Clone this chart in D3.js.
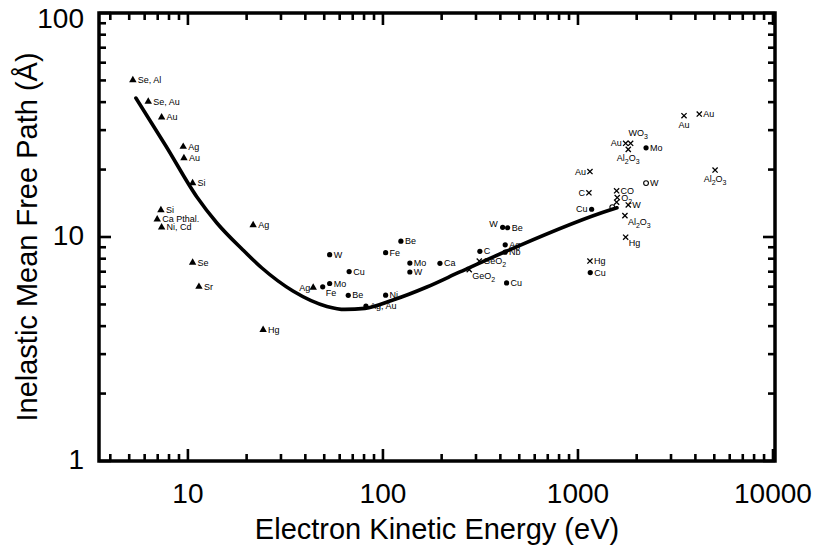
<!DOCTYPE html>
<html><head><meta charset="utf-8">
<script src="https://cdn.jsdelivr.net/npm/d3@7"></script>
<style>body{margin:0;background:#fff}</style>
</head><body><svg id="chart" width="816" height="555"></svg>
<script>
// ---------- data ----------
const xTickValues = [10, 100, 1000, 10000];
const xTickLabels = ["10", "100", "1000", "10000"];
const yTickValues = [1, 10, 100];
const yTickLabels = ["1", "10", "100"];
const xTitle = "Electron Kinetic Energy (eV)";
const yTitle = "Inelastic Mean Free Path (Å)";

// universal curve [energy eV, IMFP Å]
const universalCurve = [
  [5.41, 41.7], [7.71, 25.5], [11.12, 15.09], [14.08, 11.55], [19.15, 8.75],
  [23.96, 7.27], [34.56, 5.74], [51.6, 4.90], [63.86, 4.75], [80.8, 4.80],
  [112.5, 5.23], [168, 5.98], [248, 6.98], [432, 8.66], [1459, 13.2], [1585, 13.5]
];

// filled triangles [energy, IMFP, label]
const triangleData = [
  [5.22, 50.2, "Se, Al"], [6.26, 40.2, "Se, Au"], [7.33, 34.2, "Au"],
  [9.46, 25.3, "Ag"], [9.54, 22.5, "Au"], [10.57, 17.4, "Si"],
  [7.27, 13.2, "Si"], [6.96, 12.0, "Ca Pthal."], [7.33, 11.05, "Ni, Cd"],
  [21.6, 11.3, "Ag"], [10.57, 7.69, "Se"], [11.39, 6.0, "Sr"],
  [24.3, 3.85, "Hg"], [43.9, 5.95, "Ag"]
];
const triangleLabelPos = ["r","r","r","r","r","r","r","r","r","r","r","r","r","l"];

// filled circles
const circleData = [
  [49.1, 5.99, "Fe"], [53.3, 6.2, "Mo"], [53.3, 8.34, "W"], [67.1, 7.01, "Cu"],
  [66.4, 5.49, "Be"], [123.6, 9.58, "Be"], [103.2, 8.51, "Fe"], [137.4, 7.65, "Mo"],
  [137.4, 6.98, "W"], [196, 7.63, "Ca"], [103.2, 5.5, "Ni"], [81.8, 4.92, "Ag, Au"],
  [411, 11.05, "W"], [436, 11.0, "Be"], [423.6, 9.23, "Ag"], [314, 8.63, "C"],
  [423, 8.56, "Nb"], [430.5, 6.24, "Cu"], [1175, 13.3, "Cu"], [1156, 6.94, "Cu"],
  [2234, 25.0, "Mo"]
];
const circleLabelPos = ["br","r","r","r","r","r","r","r","r","r","r","r","tl","r","r","r","r","r","l","r","r"];

// open circles
const openCircleData = [[2234, 17.4, "W"], [1500, 13.6, ""]];
const openCircleLabelPos = ["r", "r"];

// x markers
const crossData = [
  [311.9, 7.81, "GeO2"], [277, 7.15, "GeO2"], [1152, 7.81, "Hg"],
  [4188, 35.4, "Au"], [3497, 34.8, "Au"], [1756, 26.2, "Au"],
  [1862, 26.2, "WO3"], [1811, 24.6, "Al2O3"], [1152, 19.6, "Au"],
  [5047, 19.9, "Al2O3"], [1138, 15.75, "C"], [1578, 16.08, "CO"],
  [1590, 15.0, "O2"], [1578, 14.3, ""], [1811, 13.9, "W"],
  [1741, 12.45, "Al2O3"], [1756, 9.98, "Hg"]
];
const crossLabelPos = ["r","br","r","r","b","l","t","b","l","b","l","r","r","r","r","br","br"];

// ---------- drawing ----------
const svg = d3.select("#chart");
const font = "'Liberation Sans', Arial, sans-serif";
const L = 99, R = 775, T = 13, B = 461;
const x = d3.scaleLog().domain([3.5, 10240]).range([L, R]);
const y = d3.scaleLog().domain([1, 100]).range([B, T]);

function logTicks(scale) {
  const [a, b] = scale.domain();
  const out = [];
  for (let e = Math.floor(Math.log10(a)); e <= Math.ceil(Math.log10(b)); e++) {
    for (let k = 1; k <= 9; k++) {
      const v = k * Math.pow(10, e);
      if (v >= a * 0.999 && v <= b * 1.001) out.push({v, major: k === 1});
    }
  }
  return out;
}
const tk = svg.append("g").attr("stroke", "#000").attr("stroke-width", 2.6);
const majLen = 12, minLen = 7;
logTicks(x).forEach(t => {
  const len = t.major ? majLen : minLen, px = x(t.v);
  tk.append("line").attr("x1", px).attr("x2", px).attr("y1", B).attr("y2", B - len);
  tk.append("line").attr("x1", px).attr("x2", px).attr("y1", T).attr("y2", T + len);
});
logTicks(y).forEach(t => {
  const len = t.major ? majLen : minLen, py = y(t.v);
  tk.append("line").attr("y1", py).attr("y2", py).attr("x1", L).attr("x2", L + len);
  tk.append("line").attr("y1", py).attr("y2", py).attr("x1", R).attr("x2", R - len);
});

svg.append("rect").attr("x", L).attr("y", T).attr("width", R - L).attr("height", B - T)
  .attr("fill", "none").attr("stroke", "#000").attr("stroke-width", 3.5);

svg.append("g").selectAll("text").data(xTickValues).join("text")
  .attr("x", d => x(d)).attr("y", 503).attr("text-anchor", "middle")
  .attr("font-family", font).attr("font-size", 28).attr("fill", "#000")
  .text((d, i) => xTickLabels[i]);
svg.append("g").selectAll("text").data(yTickValues).join("text")
  .attr("x", 84).attr("y", d => Math.max(y(d) + 8, 28)).attr("text-anchor", "end")
  .attr("font-family", font).attr("font-size", 28).attr("fill", "#000")
  .text((d, i) => yTickLabels[i]);

svg.append("text").attr("x", (L + R) / 2).attr("y", 539).attr("text-anchor", "middle")
  .attr("font-family", font).attr("font-size", 29).attr("fill", "#000").text(xTitle);
svg.append("text").attr("transform", `translate(37,${(T + B) / 2}) rotate(-90)`)
  .attr("text-anchor", "middle").attr("font-family", font).attr("font-size", 29)
  .attr("fill", "#000").text(yTitle);

const lblSize = 9;
function addLabel(g, px, py, label, pos) {
  if (!label) return;
  let dx = 4, dy = 3, anchor = "start";
  if (pos === "l") { dx = -4; anchor = "end"; }
  if (pos === "tl") { dx = -5; dy = 0; anchor = "end"; }
  if (pos === "b") { dx = 0; dy = 12; anchor = "middle"; }
  if (pos === "t") { dx = -2; dy = -7; anchor = "start"; }
  if (pos === "br") { dx = 3; dy = 9; }
  const t = g.append("text").attr("x", px + dx).attr("y", py + dy)
    .attr("text-anchor", anchor).attr("font-family", font)
    .attr("font-size", lblSize).attr("fill", "#000");
  const parts = label.split(/(\d)/).filter(s => s.length);
  let lowered = false;
  parts.forEach(p => {
    if (/^\d$/.test(p)) {
      t.append("tspan").attr("dy", 3).attr("font-size", 7).text(p);
      lowered = true;
    } else {
      const s = t.append("tspan").text(p);
      if (lowered) { s.attr("dy", -3); lowered = false; }
    }
  });
}

const mk = svg.append("g");
const tri = d3.symbol().type(d3.symbolTriangle).size(24);
triangleData.forEach((d, i) => {
  const px = x(d[0]), py = y(d[1]);
  mk.append("path").attr("d", tri()).attr("transform", `translate(${px},${py})`).attr("fill", "#000");
  addLabel(mk, px + 1, py, d[2], triangleLabelPos[i]);
});
circleData.forEach((d, i) => {
  const px = x(d[0]), py = y(d[1]);
  mk.append("circle").attr("cx", px).attr("cy", py).attr("r", 2.6).attr("fill", "#000");
  addLabel(mk, px, py, d[2], circleLabelPos[i]);
});
openCircleData.forEach((d, i) => {
  const px = x(d[0]), py = y(d[1]);
  mk.append("circle").attr("cx", px).attr("cy", py).attr("r", 2.4)
    .attr("fill", "#fff").attr("stroke", "#000").attr("stroke-width", 1.1);
  addLabel(mk, px, py, d[2], openCircleLabelPos[i]);
});
crossData.forEach((d, i) => {
  const px = x(d[0]), py = y(d[1]);
  mk.append("path").attr("d", "M-2.6,-2.6L2.6,2.6M-2.6,2.6L2.6,-2.6")
    .attr("transform", `translate(${px},${py})`).attr("stroke", "#000").attr("stroke-width", 1.3);
  addLabel(mk, px, py, d[2], crossLabelPos[i]);
});

const line = d3.line().x(d => x(d[0])).y(d => y(d[1])).curve(d3.curveMonotoneX);
svg.append("path").datum(universalCurve).attr("d", line)
  .attr("fill", "none").attr("stroke", "#000").attr("stroke-width", 3.6)
  .attr("stroke-linecap", "round").attr("stroke-linejoin", "round");
</script>
</body></html>
